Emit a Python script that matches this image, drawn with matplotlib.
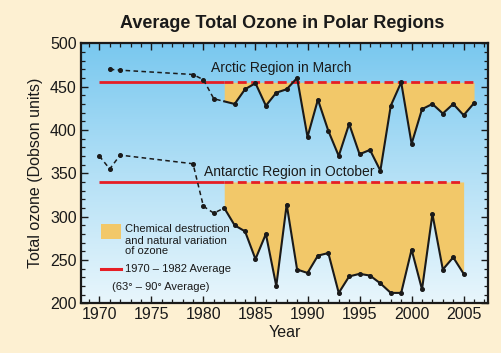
import numpy as np
import matplotlib
matplotlib.use("Agg")
import matplotlib.pyplot as plt
from matplotlib.colors import LinearSegmentedColormap
from matplotlib.patches import Rectangle
from matplotlib.lines import Line2D
from matplotlib.ticker import MultipleLocator

plt.rcParams['font.family'] = ['Liberation Sans', 'DejaVu Sans']

# ---- data ----
arctic_years = [1971, 1972, 1979, 1980, 1981, 1983, 1984, 1985, 1986, 1987, 1988,
                1989, 1990, 1991, 1992, 1993, 1994, 1995, 1996, 1997, 1998, 1999,
                2000, 2001, 2002, 2003, 2004, 2005, 2006]
arctic_vals = [470, 469, 464, 458, 436, 430, 447, 454, 428, 443, 447,
               460, 392, 435, 399, 370, 407, 372, 377, 353, 428, 455,
               384, 424, 430, 419, 430, 417, 431]
antarctic_years = [1970, 1971, 1972, 1979, 1980, 1981, 1982, 1983, 1984, 1985, 1986,
                   1987, 1988, 1989, 1990, 1991, 1992, 1993, 1994, 1995, 1996, 1997,
                   1998, 1999, 2000, 2001, 2002, 2003, 2004, 2005]
antarctic_vals = [370, 355, 371, 361, 312, 304, 310, 290, 283, 251, 280,
                  220, 314, 239, 235, 255, 258, 212, 231, 234, 232, 223,
                  212, 212, 262, 216, 303, 239, 253, 234]
arctic_avg = 455
antarctic_avg = 340
split_year = 1982
avg_start = 1970

xticks = [1970, 1975, 1980, 1985, 1990, 1995, 2000, 2005]
yticks = [200, 250, 300, 350, 400, 450, 500]

# ---- styles ----
BG = '#FDF0D2'
ORANGE = '#F2C869'
RED = '#E61E25'

fig = plt.figure(figsize=(5.01, 3.53), dpi=100, facecolor=BG)
ax = fig.add_axes([81/501, 1-303.3/353, 407/501, 260/353])
ax.set_xlim(1968.24, 2007.34)
ax.set_ylim(200, 500)

# gradient background
cmap = LinearSegmentedColormap.from_list('bg', ['#79C8EF', '#B3E0F6', '#E8F6FC'])
grad = np.linspace(0, 1, 256).reshape(-1, 1)
ax.imshow(grad, cmap=cmap, aspect='auto', extent=[0, 1, 0, 1],
          transform=ax.transAxes, zorder=0)


def draw_series(years, vals, avg, end_year):
    years = np.asarray(years, float)
    vals = np.asarray(vals, float)
    split_val = np.interp(split_year, years, vals)
    pre = years < split_year
    xs_pre = np.append(years[pre], split_year)
    ys_pre = np.append(vals[pre], split_val)
    post = years >= split_year
    xs_post = np.insert(years[post], 0, split_year)
    ys_post = np.insert(vals[post], 0, split_val)
    # fill
    xx = np.linspace(split_year, end_year, 3000)
    yy = np.interp(xx, years, vals)
    ax.fill_between(xx, np.minimum(yy, avg), avg, color=ORANGE, lw=0, zorder=2)
    # average line
    ax.plot([avg_start, split_year], [avg, avg], color=RED, lw=2.0, zorder=3,
            solid_capstyle='butt')
    ax.plot([split_year, end_year], [avg, avg], color=RED, lw=2.0, zorder=3,
            dashes=(3.2, 1.6), dash_capstyle='butt')
    # data lines
    ax.plot(xs_pre, ys_pre, color='#1a1a1a', lw=1.1, dashes=(3, 2.2), zorder=4)
    ax.plot(xs_post, ys_post, color='#1a1a1a', lw=1.5, zorder=4)
    ax.plot(years, vals, ls='none', marker='o', ms=2.6, color='#1a1a1a', zorder=5)


draw_series(arctic_years, arctic_vals, arctic_avg, arctic_years[-1])
draw_series(antarctic_years, antarctic_vals, antarctic_avg, antarctic_years[-1])

ax.text(1980.7, 472, 'Arctic Region in March', fontsize=10, va='center',
        ha='left', color='#1a1a1a', zorder=6)
ax.text(1980.06, 352, 'Antarctic Region in October', fontsize=10, va='center',
        ha='left', color='#1a1a1a', zorder=6)

# legend (axes fraction)
ax.add_patch(Rectangle((0.049, 0.247), 0.049, 0.058, transform=ax.transAxes,
                       facecolor=ORANGE, edgecolor='none', zorder=6))
for txt, yv in [('Chemical destruction', 0.284), ('and natural variation', 0.2405),
                ('of ozone', 0.202)]:
    ax.text(0.108, yv, txt, transform=ax.transAxes, fontsize=8, va='center',
            ha='left', color='#1a1a1a', zorder=6)
ax.add_line(Line2D([0.049, 0.098], [0.1308, 0.1308], transform=ax.transAxes,
                   color=RED, lw=2.2, zorder=6))
ax.text(0.108, 0.1308, '1970 \u2013 1982 Average', transform=ax.transAxes,
        fontsize=8, va='center', ha='left', color='#1a1a1a', zorder=6)
ax.text(0.0755, 0.0615, '(63\u00b0 \u2013 90\u00b0 Average)', transform=ax.transAxes,
        fontsize=8, va='center', ha='left', color='#1a1a1a', zorder=6)

# axes styling
ax.set_xticks(xticks)
ax.set_yticks(yticks)
ax.xaxis.set_minor_locator(MultipleLocator(1))
ax.yaxis.set_minor_locator(MultipleLocator(10))
ax.tick_params(which='both', direction='in', top=True, right=True,
               color='#1a1a1a', labelsize=11.5, labelcolor='#1a1a1a')
ax.tick_params(which='major', length=5, width=1.0, pad=3)
ax.tick_params(which='minor', length=3, width=0.9)
for s in ax.spines.values():
    s.set_linewidth(1.6)
    s.set_color('#1a1a1a')
    s.set_zorder(7)

ax.set_xlabel('Year', fontsize=11.5, color='#1a1a1a', labelpad=2)
ax.set_ylabel('Total ozone (Dobson units)', fontsize=11.5, color='#1a1a1a', labelpad=5)

fig.text(282/501, 1-23/353, 'Average Total Ozone in Polar Regions', fontsize=13,
         fontweight='bold', ha='center', va='center', color='#1a1a1a')

fig.savefig('out.png', dpi=100, facecolor=BG)
